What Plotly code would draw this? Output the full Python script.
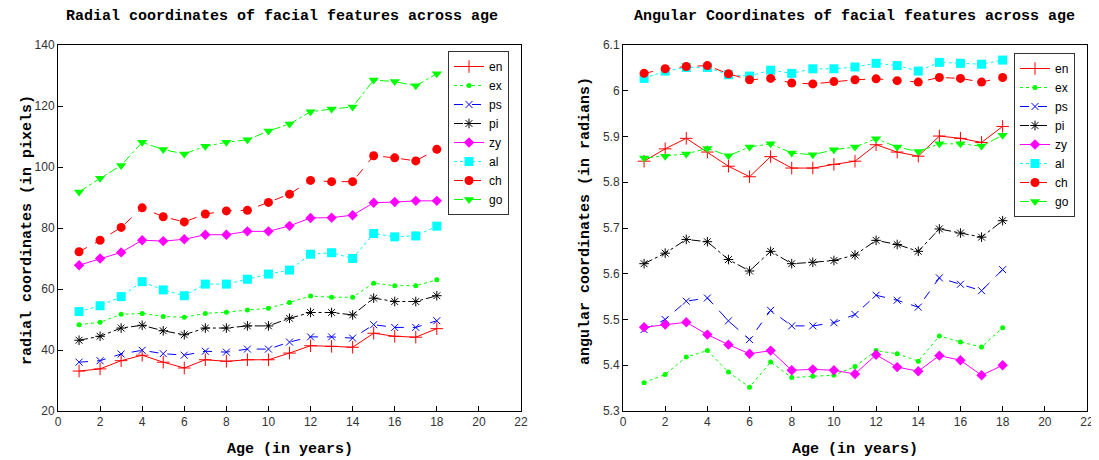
import plotly.graph_objects as go

ages = list(range(1, 19))
features = ["en", "ex", "ps", "pi", "zy", "al", "ch", "go"]

# Radial coordinates (pixels)
rad_en = [33.1, 33.8, 36.5, 38.3, 36.0, 34.1, 36.8, 36.3, 36.8, 36.8, 39.0, 41.4, 41.2, 40.9, 45.5, 44.5, 44.2, 47.0]
rad_ex = [48.3, 49.1, 51.7, 52.0, 51.0, 50.7, 52.0, 52.4, 53.1, 53.7, 55.6, 57.7, 57.3, 57.3, 61.9, 61.1, 61.1, 63.0]
rad_ps = [36.0, 36.5, 38.7, 39.9, 38.8, 38.3, 39.6, 39.3, 40.3, 40.3, 42.6, 44.3, 44.3, 43.9, 48.3, 47.4, 47.4, 49.6]
rad_pi = [43.2, 44.5, 47.2, 48.1, 46.3, 45.0, 47.2, 47.2, 47.9, 47.9, 50.4, 52.3, 52.3, 51.5, 57.0, 55.9, 55.9, 57.8]
rad_zy = [67.8, 70.0, 72.0, 76.0, 75.7, 76.3, 77.8, 77.8, 78.9, 78.9, 80.7, 83.3, 83.4, 84.2, 88.3, 88.5, 88.9, 88.9]
rad_al = [52.6, 54.5, 57.5, 62.4, 59.7, 57.8, 61.6, 61.6, 63.2, 64.9, 66.2, 71.4, 71.9, 70.0, 78.2, 77.1, 77.4, 80.6]
rad_ch = [72.2, 76.0, 80.2, 86.6, 83.7, 82.0, 84.6, 85.6, 85.8, 88.4, 91.1, 95.6, 95.2, 95.2, 103.7, 103.0, 102.0, 105.8]
rad_go = [91.8, 96.3, 100.5, 108.1, 105.7, 104.3, 106.8, 108.1, 108.9, 111.8, 114.1, 118.1, 119.0, 119.7, 128.5, 128.0, 126.6, 130.6]

# Angular coordinates (radians)
ang_en = [5.846, 5.873, 5.896, 5.866, 5.835, 5.812, 5.856, 5.831, 5.831, 5.839, 5.846, 5.882, 5.866, 5.857, 5.901, 5.896, 5.887, 5.922]
ang_ex = [5.362, 5.380, 5.418, 5.432, 5.385, 5.352, 5.407, 5.373, 5.376, 5.378, 5.397, 5.432, 5.425, 5.409, 5.464, 5.451, 5.440, 5.482]
ang_ps = [5.478, 5.500, 5.540, 5.547, 5.497, 5.456, 5.520, 5.486, 5.486, 5.493, 5.511, 5.553, 5.542, 5.527, 5.591, 5.577, 5.563, 5.609]
ang_pi = [5.622, 5.645, 5.675, 5.670, 5.631, 5.606, 5.649, 5.622, 5.625, 5.629, 5.641, 5.673, 5.664, 5.649, 5.698, 5.689, 5.680, 5.716]
ang_zy = [5.483, 5.489, 5.494, 5.467, 5.445, 5.425, 5.432, 5.389, 5.391, 5.389, 5.381, 5.423, 5.396, 5.387, 5.421, 5.411, 5.378, 5.400]
ang_al = [6.027, 6.043, 6.051, 6.051, 6.035, 6.032, 6.045, 6.038, 6.048, 6.048, 6.052, 6.060, 6.055, 6.043, 6.062, 6.060, 6.058, 6.067]
ang_ch = [6.038, 6.048, 6.053, 6.055, 6.037, 6.024, 6.027, 6.017, 6.015, 6.020, 6.024, 6.026, 6.022, 6.019, 6.029, 6.027, 6.019, 6.029]
ang_go = [5.853, 5.857, 5.862, 5.874, 5.858, 5.877, 5.884, 5.864, 5.860, 5.871, 5.877, 5.895, 5.877, 5.867, 5.884, 5.884, 5.879, 5.903]

x_ticks = list(range(0, 23, 2))
rad_ticks = [20, 40, 60, 80, 100, 120, 140]
ang_ticks = [5.3, 5.4, 5.5, 5.6, 5.7, 5.8, 5.9, 6.0, 6.1]
ang_ticktext = ["5.3", "5.4", "5.5", "5.6", "5.7", "5.8", "5.9", "6", "6.1"]

radial = [rad_en, rad_ex, rad_ps, rad_pi, rad_zy, rad_al, rad_ch, rad_go]
angular = [ang_en, ang_ex, ang_ps, ang_pi, ang_zy, ang_al, ang_ch, ang_go]

styles = {
    "en": dict(color="#ff0000", dash="solid", symbol="cross-thin", size=9, lw=1),
    "ex": dict(color="#00ff00", dash="dot", symbol="circle", size=5, lw=0),
    "ps": dict(color="#0000ff", dash="dash", symbol="x-thin", size=7, lw=1),
    "pi": dict(color="#000000", dash="dashdot", symbol="asterisk", size=8, lw=1),
    "zy": dict(color="#ff00ff", dash="solid", symbol="diamond", size=8, lw=0),
    "al": dict(color="#00ffff", dash="dot", symbol="square", size=9, lw=0),
    "ch": dict(color="#ff0000", dash="dash", symbol="circle", size=9, lw=0),
    "go": dict(color="#00ff00", dash="dashdot", symbol="triangle-down", size=9, lw=0),
}

fig = go.Figure()

for name, yv in zip(features, radial):
    s = styles[name]
    fig.add_trace(go.Scatter(
        x=ages, y=yv, name=name, mode="lines+markers", xaxis="x", yaxis="y",
        line=dict(color=s["color"], dash=s["dash"], width=1),
        marker=dict(symbol=s["symbol"], size=s["size"], color=s["color"],
                    line=dict(color=s["color"], width=s["lw"])),
        legend="legend",
    ))

for name, yv in zip(features, angular):
    s = styles[name]
    fig.add_trace(go.Scatter(
        x=ages, y=yv, name=name, mode="lines+markers", xaxis="x2", yaxis="y2",
        line=dict(color=s["color"], dash=s["dash"], width=1),
        marker=dict(symbol=s["symbol"], size=s["size"], color=s["color"],
                    line=dict(color=s["color"], width=s["lw"])),
        legend="legend2",
    ))

# page body has an 8px margin; positions below are in figure pixels
W, H = 1091, 452
tickfont = dict(family="Liberation Sans, Arial, sans-serif", size=12, color="#333333")
titlefont = dict(family="Liberation Mono, Courier New, monospace", size=15, color="#000000")

axis_common = dict(
    showgrid=False, zeroline=False, showline=True, linecolor="#000000", linewidth=1,
    mirror=True, ticks="inside", ticklen=5, tickcolor="#000000", tickfont=tickfont,
    automargin=False,
)

legend_common = dict(
    bgcolor="#ffffff", bordercolor="#333333", borderwidth=1,
    font=dict(family="Liberation Sans, Arial, sans-serif", size=12, color="#000000"),
    xanchor="left", yanchor="top", itemwidth=30, tracegroupgap=0,
)


def label(text, x, y, angle=0):
    return dict(text="<b>" + text + "</b>", x=x / W, y=1 - y / H, xref="paper", yref="paper",
                xanchor="center", yanchor="middle", showarrow=False, font=titlefont,
                textangle=angle)


fig.update_layout(
    width=W, height=H,
    margin=dict(l=0, r=0, t=0, b=0, autoexpand=False),
    paper_bgcolor="#ffffff", plot_bgcolor="#ffffff",
    xaxis=dict(domain=[50 / W, 513 / W], range=[0, 22], tickvals=x_ticks,
               anchor="y", **axis_common),
    yaxis=dict(domain=[1 - 403 / H, 1 - 37 / H], range=[20, 140], tickvals=rad_ticks,
               anchor="x", **axis_common),
    xaxis2=dict(domain=[615 / W, 1079 / W], range=[0, 22], tickvals=x_ticks,
                anchor="y2", **axis_common),
    yaxis2=dict(domain=[1 - 403 / H, 1 - 37 / H], range=[5.3, 6.1], tickvals=ang_ticks,
                ticktext=ang_ticktext, anchor="x2", **axis_common),
    legend=dict(x=440 / W, y=1 - 43 / H, **legend_common),
    legend2=dict(x=1006 / W, y=1 - 45 / H, **legend_common),
    annotations=[
        label("Radial coordinates of facial features across age", 274, 9),
        label("Angular Coordinates of facial features across age", 846, 9),
        label("Age (in years)", 282, 441),
        label("Age (in years)", 847, 441),
        label("radial coordinates (in pixels)", 19, 222, -90),
        label("angular coordinates (in radians)", 577, 213, -90),
    ],
    showlegend=True,
)

fig.write_html("out.html")
